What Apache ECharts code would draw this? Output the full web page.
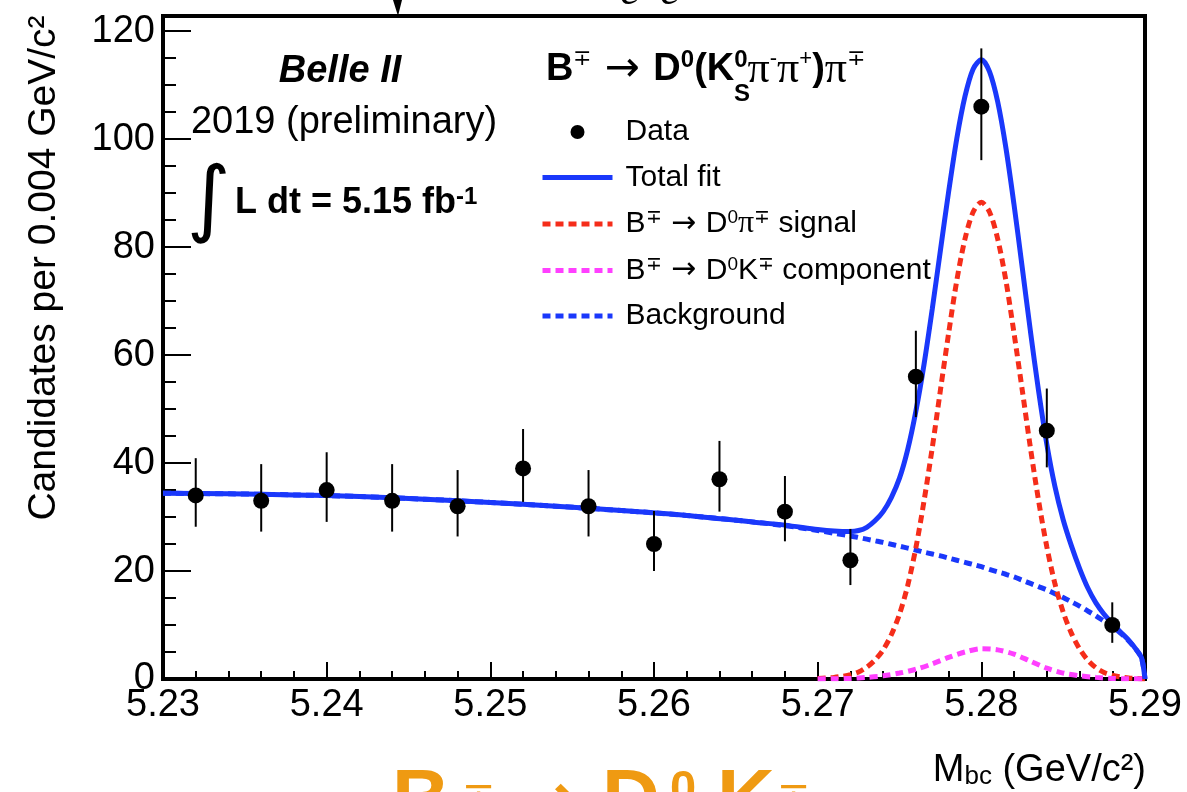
<!DOCTYPE html>
<html>
<head>
<meta charset="utf-8">
<title>Mbc fit B -> D0 pi</title>
<script src="https://cdn.jsdelivr.net/npm/echarts@6/dist/echarts.min.js"></script>
<style>
  html, body { margin: 0; padding: 0; background: #fff; }
  #chart { width: 1187px; height: 792px; }
</style>
</head>
<body>
<div id="chart"></div>
<script>
// data points, 0.004 GeV/c^2 bins
const binCenters = [5.232, 5.236, 5.240, 5.244, 5.248, 5.252, 5.256, 5.260, 5.264, 5.268, 5.272, 5.276, 5.280, 5.284, 5.288];
const counts = [34, 33, 35, 33, 32, 39, 32, 25, 37, 31, 22, 56, 106, 46, 10];
const errUp = [6.9, 6.8, 7.0, 6.8, 6.7, 7.3, 6.7, 6.1, 7.1, 6.6, 5.8, 8.5, 10.8, 7.8, 4.2];
const errDown = [5.8, 5.7, 5.9, 5.7, 5.6, 6.2, 5.6, 5.0, 6.0, 5.5, 4.6, 7.5, 9.9, 6.8, 3.3];

// fit curves
const fitX = [5.230, 5.234, 5.238, 5.242, 5.246, 5.250, 5.254, 5.258, 5.262, 5.266, 5.268, 5.270, 5.271, 5.272,
  5.2725, 5.273, 5.2735, 5.274, 5.2745, 5.275, 5.2755, 5.276, 5.2765, 5.277,
  5.2775, 5.278, 5.2785, 5.279, 5.2795, 5.280, 5.2805, 5.281, 5.2815, 5.282,
  5.2825, 5.283, 5.2835, 5.284, 5.2845, 5.285, 5.2855, 5.286, 5.2865, 5.287,
  5.2875, 5.288, 5.2885, 5.289, 5.2895, 5.2898, 5.290];
const totalFit = [34.4, 34.3, 34.1, 33.8, 33.3, 32.7, 32.0, 31.2, 30.3, 29.1, 28.5, 27.7, 27.4, 27.3,
  27.5, 28.1, 29.3, 31.0, 33.6, 37.2, 42.5, 49.6, 58.3, 68.5,
  79.4, 90.2, 100.1, 107.9, 113.0, 114.7, 112.5, 106.9, 98.4, 87.8,
  76.2, 64.4, 53.3, 43.5, 35.6, 29.5, 24.7, 20.5, 16.9, 14.1,
  12.0, 10.3, 8.7, 7.2, 5.3, 3.8, 0];
const background = [34.4, 34.3, 34.1, 33.8, 33.3, 32.7, 32.0, 31.2, 30.3, 29.1, 28.4, 27.5, 27.0, 26.5,
  26.2, 25.9, 25.6, 25.3, 24.95, 24.6, 24.25, 23.9, 23.5, 23.15,
  22.8, 22.4, 22.0, 21.6, 21.2, 20.8, 20.3, 19.85, 19.4, 18.9,
  18.3, 17.7, 17.1, 16.5, 15.8, 15.1, 14.3, 13.5, 12.6, 11.7,
  10.7, 9.7, 8.5, 7.1, 5.3, 3.8, 0];

const sigX = [5.270, 5.2705, 5.271, 5.2715, 5.272, 5.2725, 5.273, 5.2735, 5.274, 5.2745,
  5.275, 5.2755, 5.276, 5.2765, 5.277, 5.2775, 5.278, 5.2785, 5.279, 5.2795,
  5.280, 5.2805, 5.281, 5.2815, 5.282, 5.2825, 5.283, 5.2835, 5.284, 5.2845,
  5.285, 5.2855, 5.286, 5.2865, 5.287, 5.2875, 5.288, 5.2885, 5.289, 5.2895, 5.290];
const signal = [0.1, 0.2, 0.3, 0.5, 0.8, 1.3, 2.2, 3.5, 5.4, 8.2,
  12.0, 17.3, 24.3, 33.0, 42.8, 53.5, 64.0, 73.8, 81.5, 86.5,
  88.3, 86.5, 81.5, 73.8, 64.0, 53.5, 42.8, 33.0, 24.5, 17.6,
  12.4, 8.5, 5.6, 3.5, 2.1, 1.2, 0.7, 0.4, 0.2, 0.1, 0];

const kX = [5.270, 5.271, 5.272, 5.273, 5.274, 5.275, 5.276, 5.277, 5.278, 5.279, 5.280,
  5.281, 5.282, 5.283, 5.284, 5.285, 5.286, 5.287, 5.288, 5.289, 5.290];
const kComponent = [0, 0.05, 0.1, 0.3, 0.6, 1.1, 1.8, 2.8, 4.0, 5.0, 5.6,
  5.4, 4.6, 3.3, 2.0, 1.1, 0.6, 0.3, 0.1, 0.05, 0];

const legendLabels = {
  'Data': 'Data',
  'Total fit': 'Total fit',
  'signal': 'B{sup|∓}{ar| → }D{sup|0}{pi|π}{sup|∓} signal',
  'kcomp': 'B{sup|∓}{ar| → }D{sup|0}K{sup|∓} component',
  'Background': 'Background'
};

const FONT = 'Liberation Sans, Arial, Helvetica, sans-serif';
const BLUE = '#1a38fb';
const RED = '#f52d1a';
const MAGENTA = '#ff40ff';
const ORANGE = '#ef9a12';

const pairs = (xs, ys) => xs.map((x, i) => [x, ys[i]]);

function renderErrorBar(params, api) {
  const x = api.value(0);
  const y = api.value(1);
  const lo = api.coord([x, y - api.value(2)]);
  const hi = api.coord([x, y + api.value(3)]);
  return {
    type: 'line',
    shape: { x1: lo[0], y1: lo[1], x2: hi[0], y2: hi[1] },
    style: { stroke: '#000', lineWidth: 2 }
  };
}

// legend: hide the circle that line series put in their icon
const noSymbol = { opacity: 0 };

const option = {
  animation: false,
  backgroundColor: '#fff',
  grid: {
    left: 163,
    right: 42,
    top: 16,
    bottom: 113,
    show: true,
    borderColor: '#000',
    borderWidth: 4
  },
  xAxis: {
    type: 'value',
    min: 5.23,
    max: 5.29,
    interval: 0.01,
    axisLine: { lineStyle: { color: '#000', width: 4 } },
    axisTick: { inside: true, length: 17, lineStyle: { color: '#000', width: 2 } },
    minorTick: { show: true, splitNumber: 5, length: 8, lineStyle: { color: '#000', width: 2 } },
    splitLine: { show: false },
    axisLabel: {
      color: '#000',
      fontFamily: FONT,
      fontSize: 38,
      margin: 8,
      formatter: v => v.toFixed(2)
    }
  },
  yAxis: [
    {
      type: 'value',
      min: 0,
      max: 122.8,
      interval: 20,
      axisLine: { show: true, lineStyle: { color: '#000', width: 4 } },
      axisTick: { inside: true, length: 28, lineStyle: { color: '#000', width: 2 } },
      splitLine: { show: false },
      axisLabel: { color: '#000', fontFamily: FONT, fontSize: 38, margin: 8, showMaxLabel: false }
    },
    {
      // minor ticks every 5
      type: 'value',
      min: 0,
      max: 122.8,
      interval: 5,
      position: 'left',
      axisLine: { show: false },
      axisTick: { inside: true, length: 13, lineStyle: { color: '#000', width: 2 } },
      splitLine: { show: false },
      axisLabel: { show: false }
    }
  ],
  legend: {
    orient: 'vertical',
    left: 540,
    top: 117,
    padding: 0,
    itemWidth: 70,
    itemHeight: 14,
    itemGap: 15.5,
    data: [
      { name: 'Data' },
      { name: 'Total fit', itemStyle: noSymbol },
      { name: 'signal', itemStyle: noSymbol },
      { name: 'kcomp', itemStyle: noSymbol },
      { name: 'Background', itemStyle: noSymbol }
    ],
    formatter: name => legendLabels[name],
    lineStyle: { width: 5 },
    textStyle: {
      color: '#000',
      fontFamily: FONT,
      fontSize: 30,
      padding: [0, 0, 0, 8],
      rich: {
        sup: { color: '#000', fontFamily: FONT, fontSize: 19, verticalAlign: 'top' },
        ar: { color: '#000', fontFamily: 'DejaVu Sans, sans-serif', fontSize: 30 },
        pi: { color: '#000', fontFamily: 'Liberation Serif, serif', fontSize: 32 }
      }
    }
  },
  graphic: [
    {
      type: 'text', x: 44, y: 268, rotation: Math.PI / 2,
      style: { text: 'Candidates per 0.004 GeV/c²', fontFamily: FONT, fontSize: 39, fill: '#000', align: 'center', verticalAlign: 'middle' }
    },
    {
      type: 'text', x: 1146, y: 771,
      style: {
        text: '{m|M}{sub|bc}{m| (GeV/c²)}', align: 'right', verticalAlign: 'middle', fill: '#000',
        rich: {
          m: { fontFamily: FONT, fontSize: 38, fill: '#000' },
          sub: { fontFamily: FONT, fontSize: 26, fill: '#000', verticalAlign: 'bottom' }
        }
      }
    },
    {
      type: 'text', x: 340, y: 72,
      style: { text: 'Belle II', fontFamily: FONT, fontSize: 38, fontWeight: 'bold', fontStyle: 'italic', fill: '#000', align: 'center', verticalAlign: 'middle' }
    },
    {
      type: 'text', x: 344, y: 123,
      style: { text: '2019 (preliminary)', fontFamily: FONT, fontSize: 38, fill: '#000', align: 'center', verticalAlign: 'middle' }
    },
    {
      type: 'text', x: 209, y: 204,
      style: { text: '∫', fontFamily: 'DejaVu Sans, sans-serif', fontSize: 84, fill: '#000', align: 'center', verticalAlign: 'middle' }
    },
    {
      type: 'text', x: 235, y: 203,
      style: {
        text: '{b|L dt = 5.15 fb}{s|-1}', align: 'left', verticalAlign: 'middle', fill: '#000',
        rich: {
          b: { fontFamily: FONT, fontSize: 36, fontWeight: 'bold', fill: '#000' },
          s: { fontFamily: FONT, fontSize: 24, fontWeight: 'bold', fill: '#000', verticalAlign: 'top' }
        }
      }
    },
    {
      // decay title
      type: 'text', x: 546, y: 70,
      style: {
        text: '{b|B}{s|∓}{ar| → }{b|D}{sb|0}{b|(K}{sb|0}{pi|π}{ps|-}{pi|π}{ps|+}{b|)}{pi|π}{ps|∓}',
        align: 'left', verticalAlign: 'middle', fill: '#000',
        rich: {
          b: { fontFamily: FONT, fontSize: 38, fontWeight: 'bold', fill: '#000' },
          s: { fontFamily: FONT, fontSize: 22, fill: '#000', verticalAlign: 'top' },
          ar: { fontFamily: 'DejaVu Sans, sans-serif', fontSize: 42, fill: '#000' },
          sb: { fontFamily: FONT, fontSize: 24, fontWeight: 'bold', fill: '#000', verticalAlign: 'top' },
          pi: { fontFamily: 'Liberation Serif, serif', fontSize: 44, fill: '#000' },
          ps: { fontFamily: FONT, fontSize: 22, fill: '#000', verticalAlign: 'top' }
        }
      }
    },
    {
      // subscript S of K0S, stacked under the 0
      type: 'text', x: 734, y: 94,
      style: { text: 'S', fontFamily: FONT, fontSize: 24, fontWeight: 'bold', fill: '#000', align: 'left', verticalAlign: 'middle' }
    },
    // slide text cut by the bottom edge
    { type: 'text', x: 392, y: 803, style: { text: 'B', fontFamily: FONT, fontSize: 80, fontWeight: 'bold', fill: ORANGE, align: 'left', verticalAlign: 'middle' } },
    { type: 'text', x: 462, y: 780, style: { text: '∓', fontFamily: 'DejaVu Sans, sans-serif', fontSize: 40, fill: ORANGE, align: 'left', verticalAlign: 'top' } },
    { type: 'text', x: 580, y: 806, style: { text: '→', fontFamily: 'DejaVu Sans, sans-serif', fontSize: 80, fontWeight: 'bold', fill: ORANGE, align: 'right', verticalAlign: 'middle' } },
    { type: 'text', x: 602, y: 803, style: { text: 'D', fontFamily: FONT, fontSize: 80, fontWeight: 'bold', fill: ORANGE, align: 'left', verticalAlign: 'middle' } },
    { type: 'text', x: 670, y: 790, style: { text: '0', fontFamily: FONT, fontSize: 47, fontWeight: 'bold', fill: ORANGE, align: 'left', verticalAlign: 'middle' } },
    { type: 'text', x: 717, y: 803, style: { text: 'K', fontFamily: FONT, fontSize: 80, fontWeight: 'bold', fill: ORANGE, align: 'left', verticalAlign: 'middle' } },
    { type: 'text', x: 777, y: 780, style: { text: '∓', fontFamily: 'DejaVu Sans, sans-serif', fontSize: 40, fill: ORANGE, align: 'left', verticalAlign: 'top' } },
    // slide text cut by the top edge
    { type: 'polygon', shape: { points: [[393, 0], [402, 0], [398, 16]] }, style: { fill: '#000' } },
    { type: 'text', x: 620, y: -8, style: { text: 'e', fontFamily: 'Liberation Serif, serif', fontStyle: 'italic', fontSize: 44, fill: '#000', align: 'left', verticalAlign: 'middle' } },
    { type: 'text', x: 660, y: -8, style: { text: 'e', fontFamily: 'Liberation Serif, serif', fontStyle: 'italic', fontSize: 44, fill: '#000', align: 'left', verticalAlign: 'middle' } }
  ],
  series: [
    {
      name: 'Background',
      type: 'line',
      data: pairs(fitX, background),
      symbol: 'none',
      smooth: 0.3,
      itemStyle: { color: BLUE },
      lineStyle: { color: BLUE, width: 5, type: [8, 5] },
      z: 2
    },
    {
      name: 'signal',
      type: 'line',
      data: pairs(sigX, signal),
      symbol: 'none',
      smooth: 0.3,
      itemStyle: { color: RED },
      lineStyle: { color: RED, width: 5, type: [8, 5] },
      z: 2
    },
    {
      name: 'kcomp',
      type: 'line',
      data: pairs(kX, kComponent),
      symbol: 'none',
      smooth: 0.3,
      itemStyle: { color: MAGENTA },
      lineStyle: { color: MAGENTA, width: 5, type: [8, 5] },
      z: 2
    },
    {
      name: 'Total fit',
      type: 'line',
      data: pairs(fitX, totalFit),
      symbol: 'none',
      smooth: 0.3,
      itemStyle: { color: BLUE },
      lineStyle: { color: BLUE, width: 5 },
      z: 3
    },
    {
      type: 'custom',
      renderItem: renderErrorBar,
      data: binCenters.map((x, i) => [x, counts[i], errDown[i], errUp[i]]),
      encode: { x: 0, y: 1 },
      z: 4
    },
    {
      name: 'Data',
      type: 'scatter',
      data: pairs(binCenters, counts),
      symbol: 'circle',
      symbolSize: 16,
      itemStyle: { color: '#000', opacity: 1 },
      z: 5
    }
  ]
};

const myChart = echarts.init(document.getElementById('chart'));
myChart.setOption(option);
</script>
</body>
</html>
